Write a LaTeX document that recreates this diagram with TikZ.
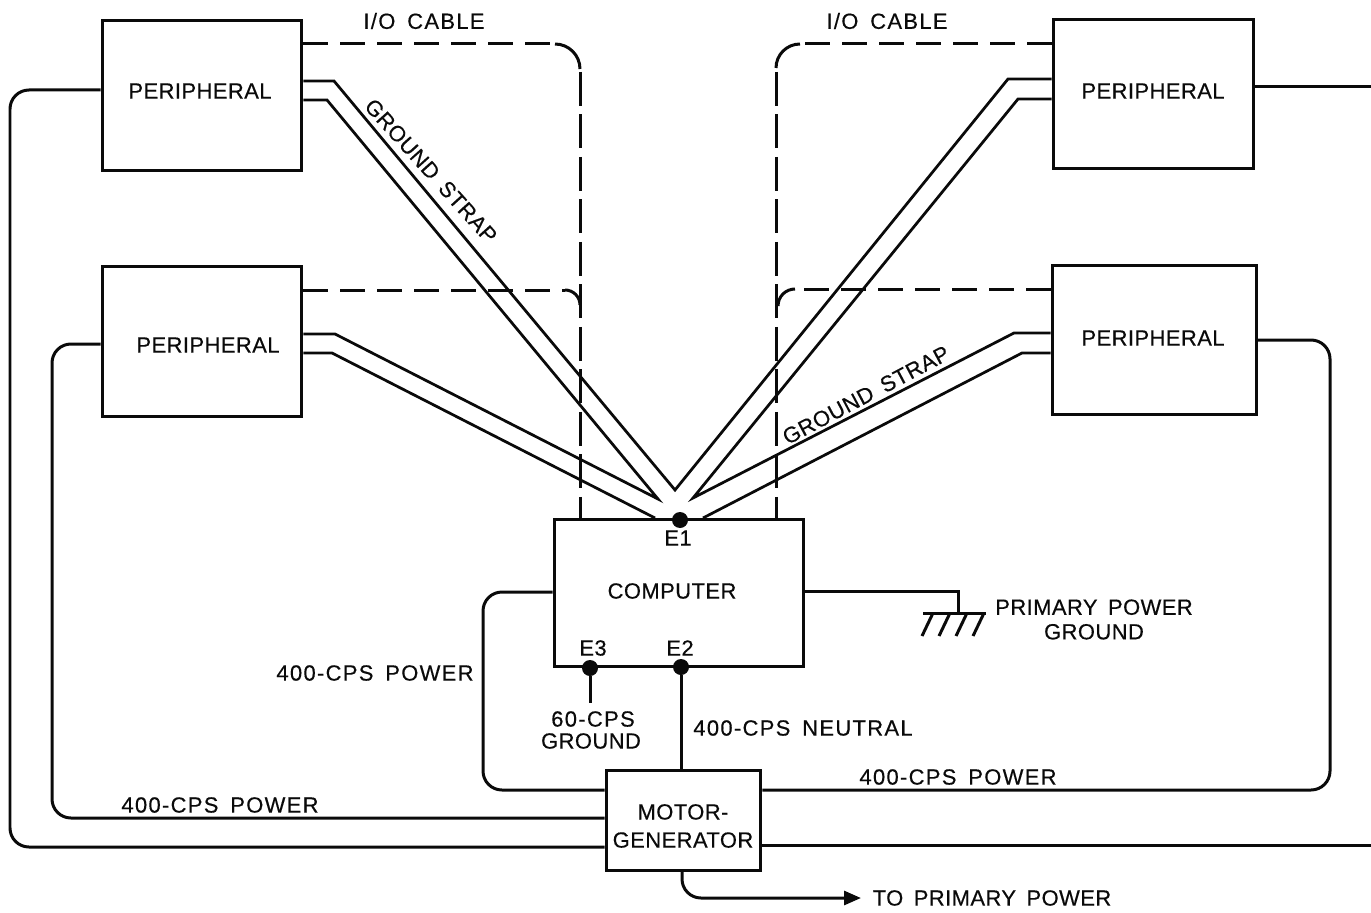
\documentclass[tikz,border=0pt]{standalone}
\usepackage{fontspec}
\setmainfont[LetterSpace=2,WordSpace=1.6,FakeBold=0.4]{Liberation Sans}
\newfontfamily\widefont[LetterSpace=6,WordSpace=1.6,FakeBold=0.4]{Liberation Sans}
\usepackage{xcolor}
\usepackage{tikz}
\usetikzlibrary{arrows.meta,positioning,calc}
\definecolor{ink}{RGB}{10,10,10}

\begin{document}
\begin{tikzpicture}[x=0.02cm,y=-0.02cm,
  block/.style={rectangle,draw=ink,line width=0.06cm,fill=white,align=center,inner sep=0pt,
                minimum width=4cm,minimum height=3cm},
  wire/.style={draw=ink,line width=0.06cm,rounded corners=0.38cm},
  lead/.style={draw=ink,line width=0.06cm},
  strap/.style={draw=ink,line width=0.055cm,line join=miter},
  cable/.style={draw=ink,line width=0.06cm,dash pattern=on 0.5cm off 0.24cm},
  cabledown/.style={draw=ink,line width=0.06cm,dash pattern=on 0.68cm off 0.17cm},
  lbl/.style={font=\fontsize{12.5}{14.5}\selectfont,text=ink,align=center,inner sep=0pt},
  widelbl/.style={lbl,font=\fontsize{12.5}{14.5}\selectfont\widefont},
  tie/.style={circle,fill=ink,inner sep=0pt,minimum size=0.32cm}
]
\useasboundingbox (0,0) rectangle (1371,912);
% peripheral boxes
\node[block] (perA) at (202,95.5) {};
\node[block] (perB) at (202,341.5) {};
\node[block] (perC) at (1153,94) {};
\node[block,minimum width=4.08cm] (perD) at (1154,340) {};
\node[lbl] at (200,91) (perAtxt) {PERIPHERAL};
\node[lbl] at (208,345) (perBtxt) {PERIPHERAL};
\node[lbl] at (1153,91) (perCtxt) {PERIPHERAL};
\node[lbl] at (1153,338) (perDtxt) {PERIPHERAL};
% computer
\node[block,minimum width=5cm,minimum height=2.96cm] (comp) at (679,593) {};
\node[lbl] (comptxt) at (672,591) {COMPUTER};
% motor generator
\node[block,minimum width=3.1cm,minimum height=2cm] (mg) at (683.5,820) {};
\node[lbl] (mgtxt) at (683,826) {MOTOR-\\[1.5pt]GENERATOR};
% tie points
\node[tie] (eone) at (680,520) {};
\node[tie] (etwo) at (681,667) {};
\node[tie] (ethree) at (590,668) {};
\node[lbl] (eonetxt) at (678,538) {E1};
\node[lbl] (etwotxt) at (680,648) {E2};
\node[lbl] (ethreetxt) at (593,648) {E3};
% bends of the ground straps
\coordinate (vtop) at (675,490);
\coordinate (vleft) at (658,499);
\coordinate (vright) at (693,498);
\draw[strap] (perA.east |- 0,81) -- (334,81) -- (vtop) -- (1008,79) -- (perC.west |- 0,79);
\draw[strap] (perA.east |- 0,100) -- (327,100) -- (vleft) -- (335,334) -- (perB.east |- 0,334);
\draw[strap] (perC.west |- 0,99) -- (1018,99) -- (vright) -- (1014,333) -- (perD.west |- 0,333);
\draw[strap] (perB.east |- 0,353) -- (332,353) -- (655,518);
\draw[strap] (perD.west |- 0,353) -- (1022,353) -- (703,518);
% i/o cables
\draw[cable] (perA.east |- 0,44) -- (555,44);
\draw[lead] (555,44) arc[start angle=90,end angle=0,radius=0.5cm];
\draw[cabledown] (580,72) -- (comp.north -| 580,0);
\draw[cable] (perB.east |- 0,290) -- (565,290);
\draw[lead] (565,290) arc[start angle=90,end angle=0,radius=0.3cm];
\draw[cable] (perC.west |- 0,44) -- (800,44);
\draw[lead] (800,44) arc[start angle=90,end angle=180,radius=0.48cm];
\draw[cabledown] (776,72) -- (comp.north -| 776,0);
\draw[cable] (perD.west |- 0,289) -- (795,289);
\draw[lead] (795,289) arc[start angle=90,end angle=180,radius=0.34cm];
% 400-cps power
\draw[wire] (perA.west |- 0,90) -- (10,90) -- (10,847) -- (mg.west |- 0,847);
\draw[wire] (perB.west |- 0,344) -- (52,344) -- (52,818) -- (mg.west |- 0,818);
\draw[wire] (comp.west |- 0,592) -- (483,592) -- (483,790) -- (mg.west |- 0,790);
\draw[wire] (perD.east |- 0,340) -- (1330,340) -- (1330,790) -- (mg.east |- 0,790);
\coordinate (edgetop) at (1380,87);
\coordinate (edgelow) at (1380,845);
\draw[wire] (perC.east |- 0,87) -- (edgetop);
\draw[wire] (mg.east |- 0,845) -- (edgelow);
% neutral and ground leads
\draw[lead] (etwo) -- (mg.north -| etwo);
\coordinate (gndstub) at (590,703);
\draw[lead] (ethree) -- (gndstub);
\coordinate (gndtop) at (958,613);
\draw[lead] (comp.east |- 0,591) -- (958,591) -- (gndtop);
\draw[lead] (923,613) -- (986,613);
\foreach \xx in {933,950,967,984} {
  \draw[lead] (\xx,613) -- (\xx-11,636);
}
% to primary power
\coordinate (primary) at (861,898);
\draw[wire,-{Triangle[length=0.34cm,width=0.28cm]}] (mg.south -| 682,0) -- (682,898) -- (primary);
% labels
\node[widelbl] (cabAtxt) at (424,21) {I/O CABLE};
\node[widelbl] (cabCtxt) at (887,21) {I/O CABLE};
\node[lbl,rotate=-48] (strapAtxt) at (431,171) {GROUND STRAP};
\node[lbl,rotate=28] (strapDtxt) at (866,395) {GROUND STRAP};
\node[lbl] (gndtxt) at (1094,619.5) {PRIMARY POWER\\[-0.5pt]GROUND};
\node[widelbl] (pwrAtxt) at (375,673) {400-CPS POWER};
\node[widelbl] (pwrBtxt) at (220,805) {400-CPS POWER};
\node[widelbl] (pwrCtxt) at (958,777) {400-CPS POWER};
\node[widelbl] (neutxt) at (803,728) {400-CPS NEUTRAL};
\node[widelbl] (gnd60txt) at (593,719) {60-CPS};
\node[lbl] (gndlowtxt) at (591,741) {GROUND};
\node[lbl] (primtxt) at (992,898) {TO PRIMARY POWER};
\end{tikzpicture}
\end{document}
